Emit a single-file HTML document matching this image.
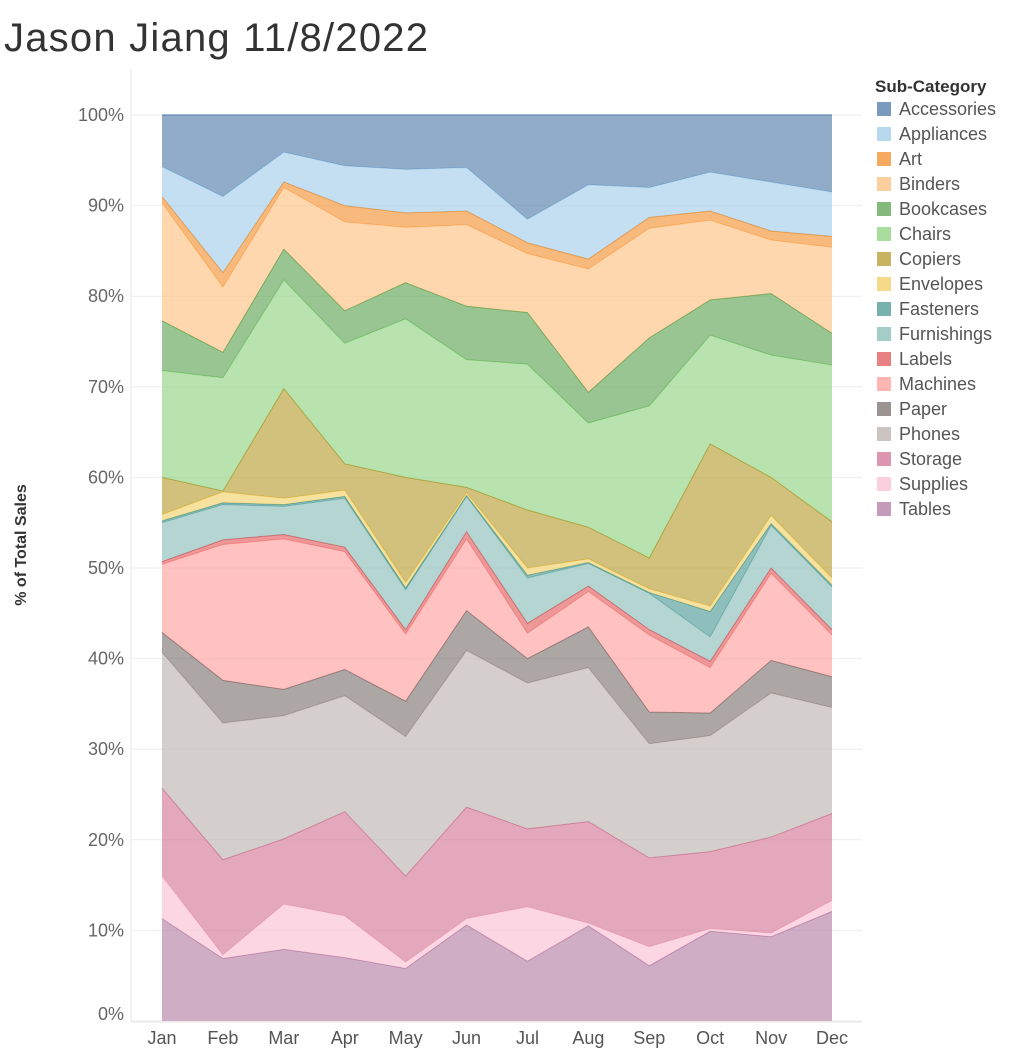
<!DOCTYPE html>
<html><head><meta charset="utf-8"><style>
body{margin:0;background:#fff;width:1013px;height:1050px;overflow:hidden;font-family:"Liberation Sans",sans-serif}
</style></head><body>
<svg id="chart" width="1013" height="1050" xmlns="http://www.w3.org/2000/svg">
<text x="4" y="51" font-size="40" fill="#333" textLength="424" font-family="Liberation Sans, sans-serif">Jason Jiang 11/8/2022</text>
<text transform="translate(26,545) rotate(-90)" text-anchor="middle" font-size="16" font-weight="bold" fill="#333">% of Total Sales</text>
<g id="grid"></g><g id="areas"></g><g id="axes"></g><g id="legend"></g>
</svg>
<script>
const months=["Jan","Feb","Mar","Apr","May","Jun","Jul","Aug","Sep","Oct","Nov","Dec"];
const yTicks=[0,10,20,30,40,50,60,70,80,90,100];
const subCategories=["Tables","Supplies","Storage","Phones","Paper","Machines","Labels","Furnishings","Fasteners","Envelopes","Copiers","Chairs","Bookcases","Binders","Art","Appliances","Accessories"];
const colors=["#b07aa1","#fabfd2","#d37295","#bab0ac","#79706e","#ff9d9a","#e15759","#86bcb6","#499894","#f1ce63","#b6992d","#8cd17d","#59a14f","#ffbe7d","#f28e2b","#a0cbe8","#4e79a7"];
// cumulative top (% of total) of each sub-category per month, bottom to top
const tablesTop=[11.3,6.9,7.9,7.0,5.8,10.6,6.6,10.5,6.1,9.9,9.3,12.1];
const suppliesTop=[16,7.3,12.9,11.6,6.5,11.3,12.6,10.8,8.2,10.2,9.7,13.3];
const storageTop=[25.7,17.8,20.1,23.1,16.0,23.6,21.2,22.0,18.0,18.7,20.3,22.9];
const phonesTop=[40.7,32.9,33.7,35.9,31.4,40.9,37.3,39.0,30.6,31.5,36.2,34.6];
const paperTop=[42.9,37.6,36.6,38.8,35.3,45.3,40.0,43.5,34.1,34.0,39.8,38.0];
const machinesTop=[50.4,52.6,53.2,51.8,42.7,53.2,42.8,47.4,42.6,39.0,49.4,42.6];
const labelsTop=[50.7,53.1,53.7,52.3,43.2,54.0,43.9,48.0,43.2,39.7,50.0,43.2];
const furnishingsTop=[55.0,57.0,56.8,57.7,47.6,57.9,48.9,50.5,47.2,42.4,54.7,47.9];
const fastenersTop=[55.2,57.2,57.0,57.9,47.8,58.0,49.2,50.6,47.3,45.2,54.9,48.1];
const envelopesTop=[55.9,58.4,57.7,58.6,48.4,58.3,50.0,51.0,47.7,45.8,55.8,48.9];
const copiersTop=[60.0,58.5,69.8,61.5,60.0,58.9,56.4,54.5,51.1,63.7,60.0,55.1];
const chairsTop=[71.8,71.0,81.8,74.8,77.5,73.0,72.5,66.0,67.9,75.7,73.5,72.4];
const bookcasesTop=[77.3,73.8,85.2,78.4,81.5,78.9,78.2,69.4,75.4,79.6,80.3,75.9];
const bindersTop=[90.3,81.0,92.0,88.2,87.6,87.9,84.7,83.0,87.5,88.4,86.2,85.4];
const artTop=[91.0,82.6,92.6,90.0,89.2,89.4,85.9,84.1,88.7,89.4,87.2,86.6];
const appliancesTop=[94.3,91.0,95.9,94.4,94.0,94.2,88.5,92.3,92.0,93.7,92.6,91.5];
const accessoriesTop=[100,100,100,100,100,100,100,100,100,100,100,100];
const tops=[tablesTop,suppliesTop,storageTop,phonesTop,paperTop,machinesTop,labelsTop,furnishingsTop,fastenersTop,envelopesTop,copiersTop,chairsTop,bookcasesTop,bindersTop,artTop,appliancesTop,accessoriesTop];

const NS="http://www.w3.org/2000/svg";
const X=i=>162+i*(832-162)/11;
const Y=v=>1021-v*9.06;
function mk(tag,attrs,parent){const e=document.createElementNS(NS,tag);for(const k in attrs)e.setAttribute(k,attrs[k]);parent.appendChild(e);return e;}
const grid=document.getElementById('grid'),areas=document.getElementById('areas'),axes=document.getElementById('axes'),legend=document.getElementById('legend');

yTicks.forEach(t=>{
  const l=mk('line',{x1:131,x2:862,y1:Y(t),y2:Y(t),stroke:'#eeeeee','stroke-width':1},grid);
  
  
  const tx=mk('text',{x:124,y:Y(t)+6+(t===0?-7:0),'text-anchor':'end','font-size':18,fill:'#666'},axes);
  tx.textContent=t+'%';
  
  
});
const yl=mk('line',{x1:131,x2:131,y1:70,y2:1022,stroke:'#e6e6e6'},axes);


const xl=mk('line',{x1:131,x2:862,y1:1022,y2:1022,stroke:'#e6e6e6'},axes);


months.forEach((m,i)=>{
  const tx=mk('text',{x:X(i),y:1044,'text-anchor':'middle','font-size':18,fill:'#555'},axes);
  tx.textContent=m;
  
  
});

tops.forEach((top,s)=>{
  const bottom=s===0?months.map(()=>0):tops[s-1];
  let d='M'+months.map((m,i)=>X(i)+','+Y(top[i])).join('L');
  for(let i=months.length-1;i>=0;i--)d+='L'+X(i)+','+Y(bottom[i]);
  d+='Z';
  const p=mk('path',{d:d,fill:colors[s],'fill-opacity':0.62,stroke:'none'},areas);
  
  
  const ln=mk('path',{d:'M'+months.map((m,i)=>X(i)+','+Y(top[i])).join('L'),fill:'none',stroke:colors[s],'stroke-width':1},areas);
  
  
});

const lt=mk('text',{x:875,y:92,'font-size':17,'font-weight':'bold',fill:'#333'},legend);
lt.textContent='Sub-Category';


for(let k=0;k<subCategories.length;k++){
  const s=subCategories.length-1-k;
  const y=109+k*25;
  const g=mk('g',{},legend);
  
  
  mk('rect',{x:877,y:y-7,width:14,height:14,fill:colors[s],'fill-opacity':0.75},g);
  const t=mk('text',{x:899,y:y+6,'font-size':18,fill:'#555'},g);
  t.textContent=subCategories[s];
}
</script>
</body></html>
